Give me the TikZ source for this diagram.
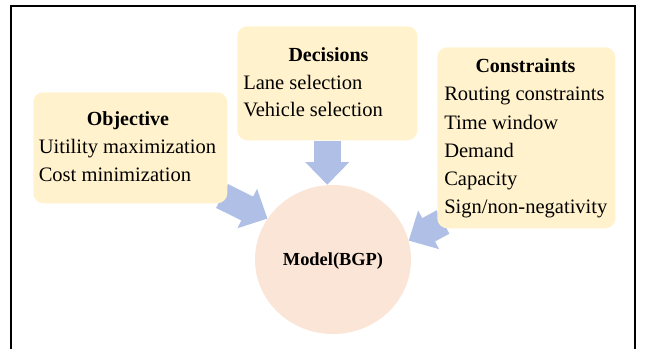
\documentclass[tikz,border=0pt]{standalone}
\usepackage{fontspec}
\setmainfont{Liberation Serif}
\usetikzlibrary{arrows.meta,shapes.geometric}
\definecolor{boxfill}{HTML}{FFF2CC}
\definecolor{modelfill}{HTML}{FBE5D6}
\definecolor{flowblue}{HTML}{B0BFE6}
\pgfdeclarelayer{under}
\pgfsetlayers{under,main}

\begin{document}
\begin{tikzpicture}[x=0.75pt,y=-0.75pt,
  panel/.style={draw=none, fill=boxfill, rounded corners=7.5pt, inner sep=0pt, anchor=north west},
  heading/.style={font=\fontsize{15}{18}\selectfont\bfseries, anchor=base, inner sep=0pt},
  item/.style={font=\fontsize{15.4}{18}\selectfont, anchor=base west, inner sep=0pt},
  flow/.style={draw=flowblue, line width=20pt, -{Triangle[length=17pt,width=32pt]}}
]
\useasboundingbox (0,0) rectangle (646,349);

% open frame (left, top and right sides)
\draw[line width=1.1pt] (11,349) -- (11,6) -- (635,6) -- (635,349);

% the three input panels
\node[panel, minimum width=145.5pt, minimum height=83.25pt] (obj) at (33,92) {};
\node[panel, minimum width=135pt, minimum height=85.5pt] (dec) at (237,26) {};
\node[panel, minimum width=133.5pt, minimum height=135.75pt] (con) at (437,47) {};

% central model and the flows into it, kept under the panels
\coordinate (objtail) at (222,196);
\coordinate (contail) at (443,222);
\begin{pgfonlayer}{under}
\node[ellipse, fill=modelfill, minimum width=117pt, minimum height=111.75pt, inner sep=0pt] (model) at (333,259.5) {};
\draw[flow] (objtail) -- (model.148);
\draw[flow] (dec.south) -- (dec.south |- model.north);
\draw[flow] (contail) -- (model.14);
\end{pgfonlayer}
\node[font=\fontsize{13.8}{16}\selectfont\bfseries, anchor=base, inner sep=0pt] (modeltxt) at (333,265) {Model(BGP)};

% Objective
\node[heading] (objh) at (128,125.7) {Objective};
\node[item] (obj1) at (38.5,153.3) {Uitility maximization};
\node[item] (obj2) at (38.5,181.7) {Cost minimization};

% Decisions
\node[heading] (dech) at (328.5,61.5) {Decisions};
\node[item] (dec1) at (243,89.3) {Lane selection};
\node[item] (dec2) at (243,117) {Vehicle selection};

% Constraints
\node[heading] (conh) at (525.5,72.7) {Constraints};
\node[item] (con1) at (444,101) {Routing constraints};
\node[item] (con2) at (444,129.3) {Time window};
\node[item] (con3) at (444,157.3) {Demand};
\node[item] (con4) at (444,185.7) {Capacity};
\node[item] (con5) at (444,214) {Sign/non-negativity};
\end{tikzpicture}
\end{document}
